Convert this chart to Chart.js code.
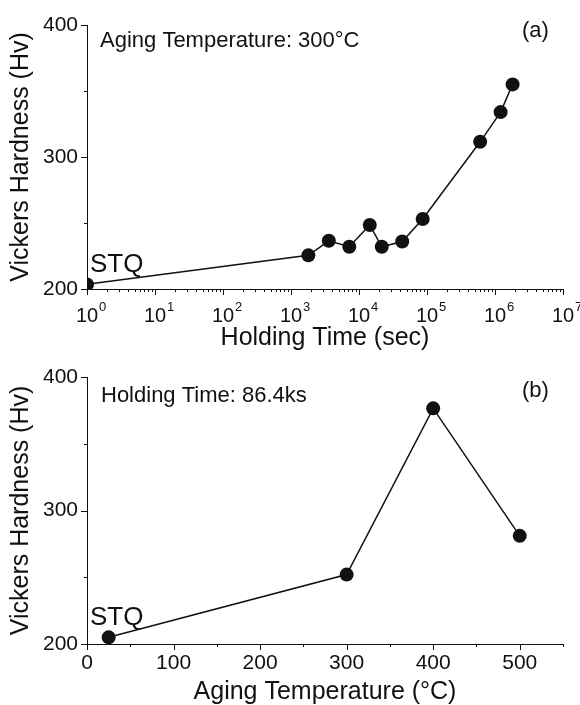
<!DOCTYPE html>
<html>
<head>
<meta charset="utf-8">
<title>Vickers hardness vs aging</title>
<script src="https://cdn.jsdelivr.net/npm/chart.js@4.4.1/dist/chart.umd.min.js"></script>
<style>
    html, body { margin: 0; padding: 0; background: #fff; }
    #wrap { position: relative; width: 580px; height: 705px; overflow: hidden; }
    canvas { position: absolute; left: 0; }
</style>
</head>
<body>
<div id="wrap">
    <canvas id="chartA" width="580" height="352" style="top:0"></canvas>
    <canvas id="chartB" width="580" height="353" style="top:352px"></canvas>
</div>
<script>
// (a) hardness vs holding time, aged at 300 C
const holdTimes = [1, 1800, 3600, 7200, 14400, 21600, 43200, 86400, 604800, 1209600, 1814400];
const hardnessA = [203.5, 225.5, 236.5, 232, 248.5, 232, 236, 253, 311.5, 334, 355];

// (b) hardness vs aging temperature, holding 86.4 ks
const agingTemps = [25, 300, 400, 500];
const hardnessB = [205, 252, 376.5, 281];

// tick values
const logExponents = [0, 1, 2, 3, 4, 5, 6, 7];
const hardTicks = [200, 250, 300, 350, 400];
const tempTicks = [0, 50, 100, 150, 200, 250, 300, 350, 400, 450, 500, 550];

const ink = '#111';
const family = '"Liberation Sans", Arial, Helvetica, sans-serif';

// small outward tick marks, long for labelled ticks, short for the rest
const axisTicks = {
    id: 'axisTicks',
    afterDraw(chart) {
        const { ctx, scales: { x, y } } = chart;
        ctx.save();
        ctx.strokeStyle = ink;
        ctx.lineWidth = 1;
        ctx.beginPath();
        x.ticks.forEach(t => {
            const px = Math.round(x.getPixelForValue(t.value)) + 0.5;
            ctx.moveTo(px, x.top);
            ctx.lineTo(px, x.top + (t.big ? 6 : 3));
        });
        y.ticks.forEach(t => {
            const py = Math.round(y.getPixelForValue(t.value)) + 0.5;
            ctx.moveTo(y.right, py);
            ctx.lineTo(y.right - (t.big ? 6 : 3), py);
        });
        ctx.stroke();
        ctx.restore();
    }
};

// 10^n labels for the log axis
const powerLabels = {
    id: 'powerLabels',
    afterDraw(chart) {
        const { ctx, scales: { x } } = chart;
        ctx.save();
        ctx.fillStyle = ink;
        ctx.textBaseline = 'alphabetic';
        logExponents.forEach(e => {
            const px = x.getPixelForValue(Math.pow(10, e));
            ctx.font = '20px ' + family;
            ctx.textAlign = 'center';
            ctx.fillText('10', px, x.top + 33);
            const w = ctx.measureText('10').width;
            ctx.font = '13px ' + family;
            ctx.textAlign = 'left';
            ctx.fillText(String(e), px + w / 2 + 1, x.top + 22);
        });
        ctx.restore();
    }
};

// free text inside the plot
const notes = {
    id: 'notes',
    afterDraw(chart, args, opts) {
        const ctx = chart.ctx;
        ctx.save();
        ctx.fillStyle = ink;
        ctx.textAlign = 'left';
        ctx.textBaseline = 'alphabetic';
        (opts.items || []).forEach(n => {
            ctx.font = n.size + 'px ' + family;
            ctx.fillText(n.text, n.x, n.y);
        });
        ctx.restore();
    }
};

function hardnessAxis() {
    return {
        type: 'linear',
        min: 200,
        max: 400,
        afterBuildTicks: s => { s.ticks = hardTicks.map(v => ({ value: v, big: v % 100 === 0 })); },
        afterFit: s => { s.width = 87; },
        ticks: {
            autoSkip: false,
            padding: 9,
            color: ink,
            font: { family: family, size: 21 },
            callback: v => (v % 100 === 0 ? String(v) : '')
        },
        grid: { display: false, drawTicks: false },
        border: { display: true, color: ink, width: 1 },
        title: {
            display: true,
            text: 'Vickers Hardness (Hv)',
            color: ink,
            font: { family: family, size: 25, lineHeight: 1 },
            padding: { top: 9, bottom: 0 }
        }
    };
}

function lineSet(points) {
    return {
        data: points,
        borderColor: ink,
        borderWidth: 1.5,
        pointRadius: 7,
        pointBackgroundColor: ink,
        pointBorderWidth: 0,
        tension: 0
    };
}

const baseOptions = {
    responsive: false,
    animation: false,
    events: []
};

new Chart(document.getElementById('chartA'), {
    type: 'line',
    data: {
        datasets: [Object.assign(lineSet(holdTimes.map((t, i) => ({ x: t, y: hardnessA[i] }))), { clip: 0 })]
    },
    options: Object.assign({}, baseOptions, {
        layout: { padding: { left: 0, top: 25, right: 17, bottom: 0 } },
        plugins: {
            legend: { display: false },
            tooltip: { enabled: false },
            notes: {
                items: [
                    { text: 'Aging Temperature: 300°C', x: 100, y: 47, size: 22 },
                    { text: '(a)', x: 522, y: 37, size: 22 },
                    { text: 'STQ', x: 90, y: 272, size: 26 }
                ]
            }
        },
        scales: {
            x: {
                type: 'logarithmic',
                min: 1,
                max: 1e7,
                afterBuildTicks: s => {
                    const list = [];
                    logExponents.forEach(e => {
                        if (e === 7) { list.push({ value: 1e7, big: true }); return; }
                        for (let m = 1; m <= 9; m++) list.push({ value: m * Math.pow(10, e), big: m === 1 });
                    });
                    s.ticks = list;
                },
                afterFit: s => { s.height = 63; },
                ticks: { autoSkip: false, maxRotation: 0, callback: () => '' },
                grid: { display: false, drawTicks: false },
                border: { display: true, color: ink, width: 1 },
                title: {
                    display: true,
                    text: 'Holding Time (sec)',
                    color: ink,
                    font: { family: family, size: 25, lineHeight: 1 },
                    padding: { top: 0, bottom: 1 }
                }
            },
            y: hardnessAxis()
        }
    }),
    plugins: [axisTicks, powerLabels, notes]
});

new Chart(document.getElementById('chartB'), {
    type: 'line',
    data: {
        datasets: [Object.assign(lineSet(agingTemps.map((t, i) => ({ x: t, y: hardnessB[i] }))), { clip: false })]
    },
    options: Object.assign({}, baseOptions, {
        layout: { padding: { left: 0, top: 25, right: 17, bottom: 0 } },
        plugins: {
            legend: { display: false },
            tooltip: { enabled: false },
            notes: {
                items: [
                    { text: 'Holding Time: 86.4ks', x: 101, y: 50, size: 22 },
                    { text: '(b)', x: 522, y: 45, size: 22 },
                    { text: 'STQ', x: 90, y: 273, size: 26 }
                ]
            }
        },
        scales: {
            x: {
                type: 'linear',
                min: 0,
                max: 550,
                afterBuildTicks: s => { s.ticks = tempTicks.map(v => ({ value: v, big: v % 100 === 0 })); },
                afterFit: s => { s.height = 61; },
                ticks: {
                    autoSkip: false,
                    maxRotation: 0,
                    padding: 7,
                    color: ink,
                    font: { family: family, size: 21 },
                    callback: v => (v % 100 === 0 ? String(v) : '')
                },
                grid: { display: false, drawTicks: false },
                border: { display: true, color: ink, width: 1 },
                title: {
                    display: true,
                    text: 'Aging Temperature (°C)',
                    color: ink,
                    font: { family: family, size: 25, lineHeight: 1 },
                    padding: { top: 0, bottom: 0 }
                }
            },
            y: hardnessAxis()
        }
    }),
    plugins: [axisTicks, notes]
});
</script>
</body>
</html>
